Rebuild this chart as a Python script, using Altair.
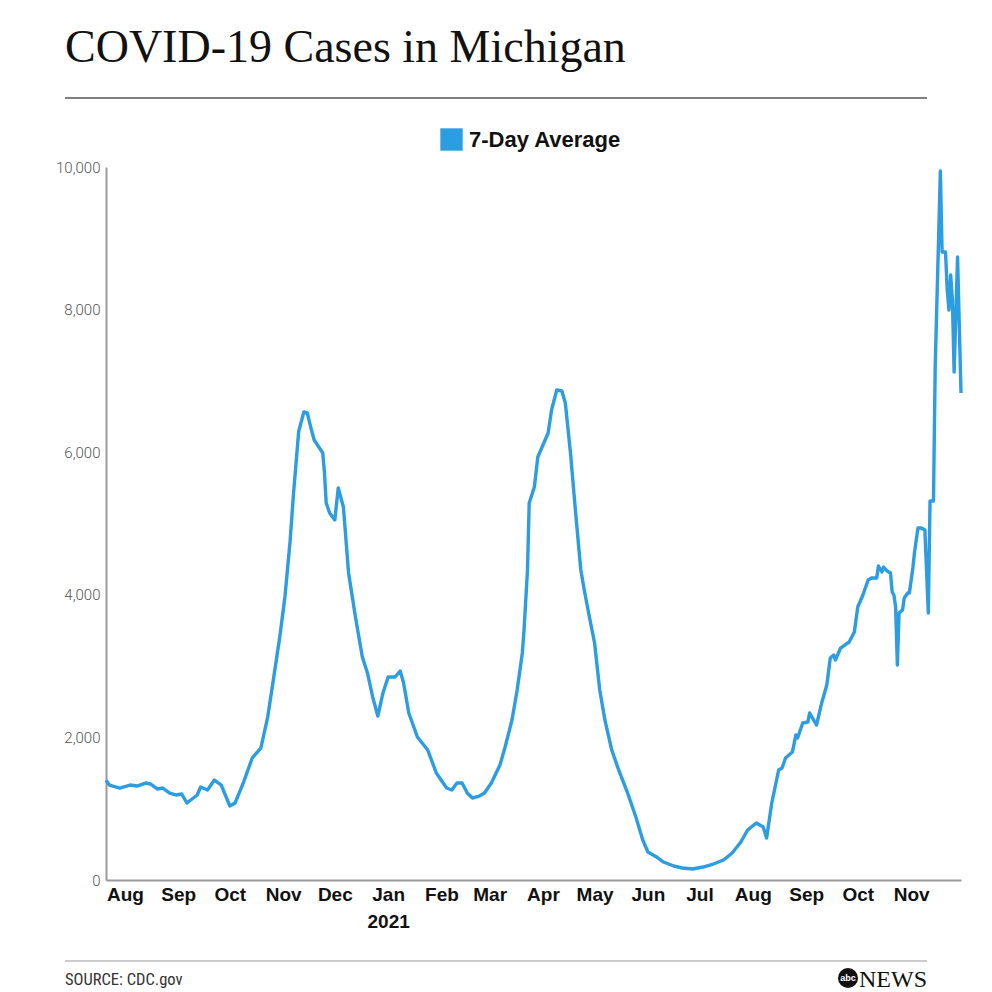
import altair as alt
import pandas as pd

# ---- data ----
dates = [
    "2020-07-21", "2020-07-23", "2020-07-29", "2020-08-04", "2020-08-08", "2020-08-13",
    "2020-08-16", "2020-08-20", "2020-08-23", "2020-08-27", "2020-08-31", "2020-09-03",
    "2020-09-06", "2020-09-12", "2020-09-14", "2020-09-18", "2020-09-22", "2020-09-26",
    "2020-10-01", "2020-10-04", "2020-10-09", "2020-10-14", "2020-10-19", "2020-10-23",
    "2020-10-26", "2020-10-30", "2020-11-02", "2020-11-05", "2020-11-07", "2020-11-10",
    "2020-11-13", "2020-11-15", "2020-11-17", "2020-11-19", "2020-11-24", "2020-11-25",
    "2020-11-26", "2020-11-28", "2020-12-01", "2020-12-03", "2020-12-06", "2020-12-09",
    "2020-12-13", "2020-12-17", "2020-12-20", "2020-12-23", "2020-12-26", "2020-12-29",
    "2021-01-01", "2021-01-05", "2021-01-08", "2021-01-10", "2021-01-13", "2021-01-18",
    "2021-01-24", "2021-01-29", "2021-02-04", "2021-02-07", "2021-02-10", "2021-02-13",
    "2021-02-16", "2021-02-19", "2021-02-23", "2021-02-26", "2021-03-02", "2021-03-07",
    "2021-03-10", "2021-03-14", "2021-03-17", "2021-03-20", "2021-03-21", "2021-03-23",
    "2021-03-24", "2021-03-27", "2021-03-29", "2021-04-01", "2021-04-04", "2021-04-06",
    "2021-04-09", "2021-04-12", "2021-04-14", "2021-04-17", "2021-04-20", "2021-04-23",
    "2021-04-25", "2021-04-28", "2021-05-01", "2021-05-04", "2021-05-07", "2021-05-11",
    "2021-05-15", "2021-05-20", "2021-05-25", "2021-05-29", "2021-06-01", "2021-06-06",
    "2021-06-10", "2021-06-16", "2021-06-21", "2021-06-27", "2021-07-03", "2021-07-09",
    "2021-07-15", "2021-07-20", "2021-07-25", "2021-07-29", "2021-08-03", "2021-08-07",
    "2021-08-09", "2021-08-12", "2021-08-16", "2021-08-18", "2021-08-20", "2021-08-24",
    "2021-08-26", "2021-08-27", "2021-08-30", "2021-09-02", "2021-09-03", "2021-09-07",
    "2021-09-10", "2021-09-13", "2021-09-15", "2021-09-17", "2021-09-18", "2021-09-21",
    "2021-09-22", "2021-09-26", "2021-09-29", "2021-10-01", "2021-10-04", "2021-10-07",
    "2021-10-09", "2021-10-12", "2021-10-13", "2021-10-15", "2021-10-16", "2021-10-18",
    "2021-10-20", "2021-10-21", "2021-10-22", "2021-10-23", "2021-10-24", "2021-10-25",
    "2021-10-27", "2021-10-28", "2021-10-30", "2021-10-31", "2021-11-02", "2021-11-03",
    "2021-11-05", "2021-11-07", "2021-11-09", "2021-11-11", "2021-11-12", "2021-11-14",
    "2021-11-15", "2021-11-18", "2021-11-19", "2021-11-21", "2021-11-22", "2021-11-23",
    "2021-11-24", "2021-11-25", "2021-11-26", "2021-11-28", "2021-11-30",
]
cases = [
    1400, 1332, 1290, 1332, 1318, 1360,
    1346, 1276, 1290, 1220, 1192, 1206,
    1080, 1192, 1304, 1262, 1402, 1332,
    1038, 1080, 1374, 1711, 1851, 2286,
    2763, 3408, 3969, 4750, 5420, 6290,
    6564, 6550, 6353, 6171, 5989, 5708,
    5288, 5147, 5049, 5498, 5231, 4306,
    3689, 3128, 2903, 2567, 2300, 2623,
    2847, 2847, 2931, 2763, 2342, 2006,
    1823, 1501, 1290, 1262, 1360, 1360,
    1220, 1150, 1178, 1220, 1360, 1613,
    1865, 2244, 2665, 3184, 3506, 4348,
    5288, 5512, 5933, 6101, 6269, 6592,
    6872, 6858, 6690, 5989, 5147, 4348,
    4067, 3689, 3324, 2665, 2244, 1823,
    1543, 1234, 884, 561, 393, 323,
    252, 196, 168, 154, 182, 224,
    280, 379, 533, 701, 799, 743,
    589, 1080, 1543, 1571, 1711, 1795,
    2034, 1992, 2202, 2216, 2342, 2174,
    2482, 2735, 3114, 3156, 3086, 3254,
    3268, 3338, 3478, 3829, 3997, 4208,
    4236, 4236, 4404, 4320, 4390, 4334,
    4306, 4039, 3997, 3829, 3015, 3745,
    3787, 3955, 4025, 4025, 4376, 4600,
    4937, 4937, 4909, 3745, 5315, 5315,
    7200, 9944, 8808, 8808, 8275, 7994,
    8485, 8135, 7125, 8738, 6830,
]
series_name = "7-Day Average"
month_ticks = [
    (2020, 8), (2020, 9), (2020, 10), (2020, 11), (2020, 12),
    (2021, 1), (2021, 2), (2021, 3), (2021, 4), (2021, 5), (2021, 6),
    (2021, 7), (2021, 8), (2021, 9), (2021, 10), (2021, 11),
]
y_ticks = [0, 2000, 4000, 6000, 8000, 10000]
title_text = "COVID-19 Cases in Michigan"
source_text = "SOURCE: CDC.gov"

BLUE = "#2b9de0"

df = pd.DataFrame({"date": dates, "cases": cases, "series": series_name})

x_values = [alt.DateTime(year=y, month=m, date=1, utc=True) for (y, m) in month_ticks]
label_expr = (
    "utcmonth(datum.value) == 0 ? [utcFormat(datum.value, '%b'), utcFormat(datum.value, '%Y')]"
    " : utcFormat(datum.value, '%b')"
)

line = alt.Chart(df).mark_line(strokeWidth=3.4, strokeJoin="round").encode(
    x=alt.X(
        "date:T",
        scale=alt.Scale(
            type="utc",
            domain=[
                alt.DateTime(year=2020, month=7, date=21, utc=True),
                alt.DateTime(year=2021, month=11, date=30, utc=True),
            ],
        ),
        axis=alt.Axis(
            title=None, values=x_values, labelExpr=label_expr, ticks=False, grid=False,
            labelFont="Liberation Sans", labelFontSize=19, labelFontWeight="bold",
            labelColor="#111111", labelPadding=5, labelLineHeight=27,
            labelOverlap=False, labelFlush=False,
            domainColor="#9a9a9a", domainWidth=2,
        ),
    ),
    y=alt.Y(
        "cases:Q",
        scale=alt.Scale(domain=[0, 10000], nice=False),
        axis=alt.Axis(
            title=None, values=y_ticks, format=",.0f", ticks=False, grid=False,
            labelFont="Roboto", labelFontWeight=300, labelFontSize=15,
            labelColor="#555555", labelPadding=6,
            domainColor="#9a9a9a", domainWidth=2,
        ),
    ),
    color=alt.Color(
        "series:N",
        scale=alt.Scale(range=[BLUE]),
        legend=alt.Legend(
            title=None, orient="none", legendX=334, legendY=-39,
            symbolType="square", symbolSize=500, symbolFillColor=BLUE,
            symbolStrokeColor=BLUE, symbolStrokeWidth=0, symbolOpacity=1,
            labelFont="Liberation Sans", labelFontSize=22, labelFontWeight="bold",
            labelColor="#111111", labelOffset=6, padding=0,
        ),
    ),
)

one = pd.DataFrame({"t": [title_text]})
title = alt.Chart(one).mark_text(
    font="Liberation Serif", fontSize=46, align="left", baseline="alphabetic", color="#111111"
).encode(text="t:N", x=alt.value(-41), y=alt.value(-105))

rule_df = pd.DataFrame({"a": [0]})
top_rule = alt.Chart(rule_df).mark_rule(color="#555555", strokeWidth=1.5).encode(
    x=alt.value(-41), x2=alt.value(821), y=alt.value(-69)
)
bottom_rule = alt.Chart(rule_df).mark_rule(color="#bbbbbb", strokeWidth=1.5).encode(
    x=alt.value(-41), x2=alt.value(821), y=alt.value(794)
)

source = alt.Chart(pd.DataFrame({"t": [source_text]})).mark_text(
    font="Liberation Sans Narrow, Arial Narrow, Roboto Condensed, Liberation Sans, Arial, sans-serif",
    fontSize=16.5, align="left", baseline="middle", color="#333333"
).encode(text="t:N", x=alt.value(-41), y=alt.value(813))

logo_circle = alt.Chart(rule_df).mark_circle(size=400, color="#111111", opacity=1).encode(
    x=alt.value(742), y=alt.value(811)
)
logo_abc = alt.Chart(pd.DataFrame({"t": ["abc"]})).mark_text(
    font="Liberation Sans", fontSize=9, fontWeight="bold", align="center", baseline="middle", color="white"
).encode(text="t:N", x=alt.value(742), y=alt.value(811))
logo_news = alt.Chart(pd.DataFrame({"t": ["NEWS"]})).mark_text(
    font="Liberation Serif", fontSize=24, align="left", baseline="alphabetic", color="#111111"
).encode(text="t:N", x=alt.value(753), y=alt.value(820))

chart = alt.layer(
    line, title, top_rule, bottom_rule, source, logo_circle, logo_abc, logo_news
).properties(
    width=855, height=713,
    autosize=alt.AutoSizeParams(type="none"),
    padding={"left": 98, "top": 159, "right": 23, "bottom": 112},
    background="white",
).configure_view(stroke=None)

chart.save("out.html", embed_options={"renderer": "svg", "actions": False})
